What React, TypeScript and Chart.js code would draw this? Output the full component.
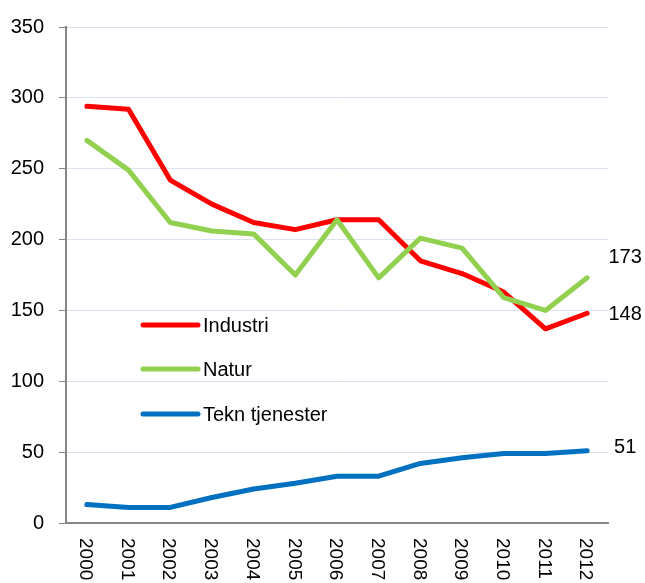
import React, { useEffect, useRef } from "react";
import { Chart, registerables } from "chart.js";

Chart.register(...registerables);

const years = ["2000", "2001", "2002", "2003", "2004", "2005", "2006", "2007", "2008", "2009", "2010", "2011", "2012"];
const industri = [294, 292, 242, 225, 212, 207, 214, 214, 185, 176, 163, 137, 148];
const natur = [270, 249, 212, 206, 204, 175, 214, 173, 201, 194, 159, 150, 173];
const tekn = [13, 11, 11, 18, 24, 28, 33, 33, 42, 46, 49, 49, 51];
const seriesNames = ["Industri", "Natur", "Tekn tjenester"];
const seriesColors = ["#ff0000", "#92d050", "#0070c0"];
const yMin = 0;
const yMax = 350;
const yStep = 50;

const FONT = "'Liberation Sans', Arial, sans-serif";
// label offsets (style, px) for the end-of-line value labels
const endLabelDy = [1, -20, -3];

const xLabelsPlugin = {
  id: "xLabelsRot",
  afterDraw(chart: any) {
    const { ctx, scales } = chart;
    const xs = scales.x;
    ctx.save();
    ctx.fillStyle = "#000";
    ctx.font = `19px ${FONT}`;
    ctx.textAlign = "left";
    ctx.textBaseline = "middle";
    years.forEach((lab, i) => {
      const x = xs.getPixelForTick(i) - 1.5;
      ctx.save();
      ctx.translate(x, xs.top + 15);
      ctx.rotate(Math.PI / 2);
      ctx.fillText(lab, 0, 0);
      ctx.restore();
    });
    ctx.restore();
  },
};

const legendPlugin = {
  id: "innerLegend",
  afterDraw(chart: any) {
    const { ctx, chartArea } = chart;
    const x0 = chartArea.left + 77;
    const x1 = chartArea.left + 132;
    const tx = chartArea.left + 137;
    const ys = [325, 369, 414];
    ctx.save();
    ctx.font = `20px ${FONT}`;
    ctx.textAlign = "left";
    ctx.textBaseline = "middle";
    seriesNames.forEach((name, i) => {
      ctx.strokeStyle = seriesColors[i];
      ctx.lineWidth = 5;
      ctx.lineCap = "round";
      ctx.beginPath();
      ctx.moveTo(x0, ys[i]);
      ctx.lineTo(x1, ys[i]);
      ctx.stroke();
      ctx.fillStyle = "#000";
      ctx.fillText(name, tx, ys[i] + 1);
    });
    ctx.restore();
  },
};

const endLabelsPlugin = {
  id: "endLabels",
  afterDraw(chart: any) {
    const { ctx, scales } = chart;
    const xs = scales.x;
    const ys = scales.y;
    const all = [industri, natur, tekn];
    const last = years.length - 1;
    ctx.save();
    ctx.font = `20px ${FONT}`;
    ctx.fillStyle = "#000";
    ctx.textAlign = "center";
    ctx.textBaseline = "middle";
    all.forEach((arr, i) => {
      const v = arr[last];
      const x = xs.getPixelForValue(last) + 38;
      const y = ys.getPixelForValue(v) + endLabelDy[i];
      ctx.fillText(String(v), x, y);
    });
    ctx.restore();
  },
};

export default function App() {
  const ref = useRef<HTMLCanvasElement>(null);

  useEffect(() => {
    document.body.style.margin = "0";
    if (!ref.current) return;
    const data = [industri, natur, tekn];
    const orders = [2, 1, 3];
    const chart = new Chart(ref.current, {
      type: "line",
      data: {
        labels: years,
        datasets: data.map((d, i) => ({
          label: seriesNames[i],
          data: d,
          borderColor: seriesColors[i],
          backgroundColor: seriesColors[i],
          borderWidth: 5,
          pointRadius: 0,
          pointHoverRadius: 0,
          tension: 0,
          fill: false,
          borderCapStyle: "round" as const,
          borderJoinStyle: "round" as const,
          order: orders[i],
        })),
      },
      options: {
        responsive: false,
        animation: false,
        devicePixelRatio: 1,
        layout: { padding: { top: 24, right: 37, left: 0, bottom: 0 } },
        plugins: {
          legend: { display: false },
          tooltip: { enabled: false },
          title: { display: false },
        },
        scales: {
          x: {
            type: "category",
            offset: true,
            grid: { display: false },
            border: { display: true, color: "#868686", width: 2 },
            ticks: { display: false },
            afterFit(scale: any) {
              scale.height = 60;
            },
          },
          y: {
            min: yMin,
            max: yMax,
            ticks: {
              stepSize: yStep,
              color: "#000",
              font: { family: FONT, size: 20 },
              padding: 15,
            },
            grid: {
              color: "#dbe3f0",
              lineWidth: 1,
              tickLength: 7,
              tickColor: "#868686",
              tickWidth: 1,
            },
            border: { display: true, color: "#868686", width: 2 },
            afterFit(scale: any) {
              scale.width = 66;
            },
          },
        },
      },
      plugins: [xLabelsPlugin, legendPlugin, endLabelsPlugin],
    });
    return () => chart.destroy();
  }, []);

  return (
    <div style={{ width: 645, height: 583, background: "#fff" }}>
      <canvas ref={ref} width={645} height={583} />
    </div>
  );
}
